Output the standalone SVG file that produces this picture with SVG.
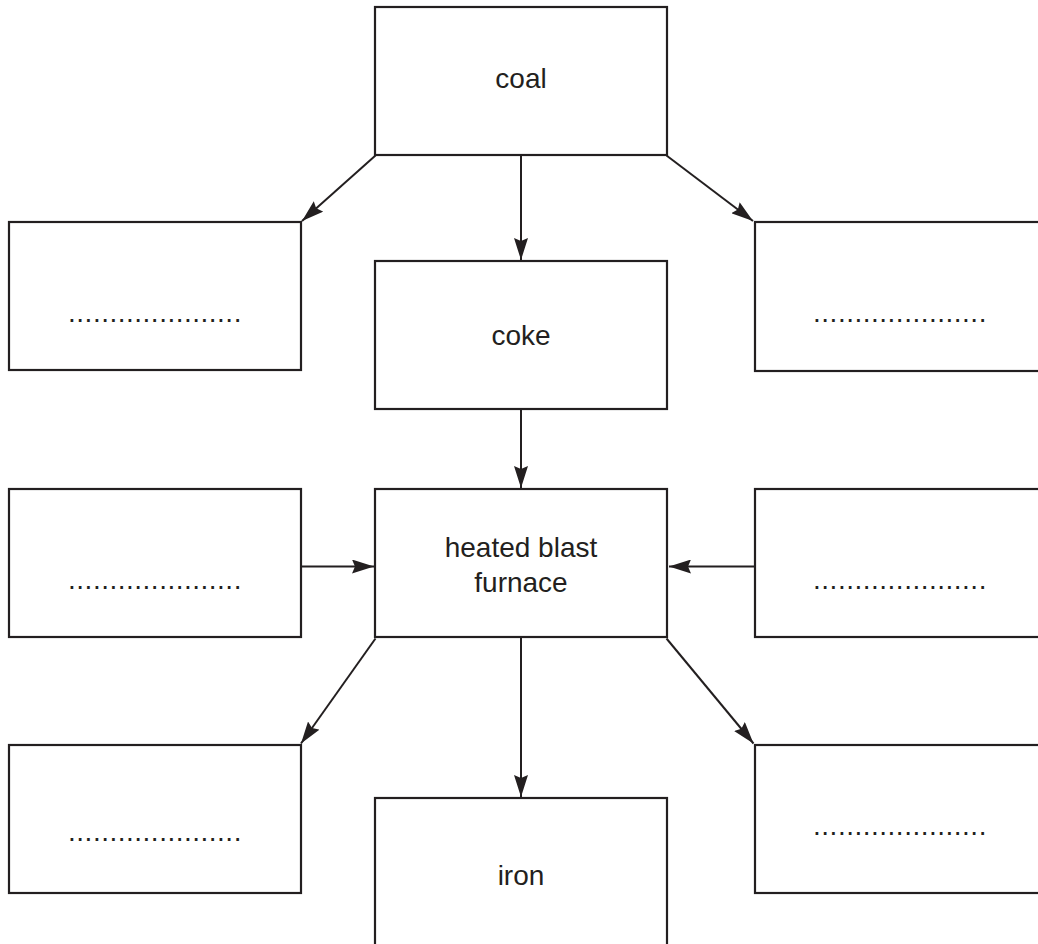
<svg xmlns="http://www.w3.org/2000/svg" width="1038" height="944" viewBox="0 0 1038 944">
<style>
.box{fill:#fff;stroke:#231f20;stroke-width:2.2}
.lbl{font-family:"Liberation Sans",Arial,sans-serif;font-size:28px;fill:#231f20;text-anchor:middle}
.dots{font-family:"Liberation Sans",Arial,sans-serif;font-size:28px;fill:#231f20;text-anchor:middle;letter-spacing:0.5px}
.conn{stroke:#231f20;stroke-width:2;fill:none;marker-end:url(#ah)}
</style>
<defs>
<marker id="ah" markerUnits="userSpaceOnUse" markerWidth="24" markerHeight="14" refX="22" refY="7" orient="auto">
<path d="M0,0 L22,7 L0,14 L3,7 Z" fill="#231f20"/>
</marker>
</defs>
<rect width="1038" height="944" fill="#fff"/>
<g id="connectors">
<line class="conn" x1="521" y1="155" x2="521" y2="260"/>
<line class="conn" x1="375.5" y1="155.5" x2="302" y2="221"/>
<line class="conn" x1="666.5" y1="155.5" x2="753" y2="221"/>
<line class="conn" x1="521" y1="409" x2="521" y2="488"/>
<line class="conn" x1="301" y1="566.5" x2="374" y2="566.5"/>
<line class="conn" x1="755" y1="566.5" x2="669" y2="566.5"/>
<line class="conn" x1="375.5" y1="638.5" x2="301" y2="743.5"/>
<line class="conn" x1="666.5" y1="638.5" x2="753.5" y2="743.5"/>
<line class="conn" x1="521" y1="637" x2="521" y2="797"/>
</g>
<g id="coal"><rect class="box" x="375" y="7" width="292" height="148"/><text class="lbl" x="521" y="88">coal</text></g>
<g id="top-left"><rect class="box" x="9" y="222" width="292" height="148"/><text class="dots" x="155" y="322">.....................</text></g>
<g id="coke"><rect class="box" x="375" y="261" width="292" height="148"/><text class="lbl" x="521" y="345">coke</text></g>
<g id="top-right"><rect class="box" x="755" y="222" width="292" height="149"/><text class="dots" x="900" y="322">.....................</text></g>
<g id="mid-left"><rect class="box" x="9" y="489" width="292" height="148"/><text class="dots" x="155" y="589">.....................</text></g>
<g id="furnace"><rect class="box" x="375" y="489" width="292" height="148"/><text class="lbl" x="521" y="557">heated blast</text><text class="lbl" x="521" y="592">furnace</text></g>
<g id="mid-right"><rect class="box" x="755" y="489" width="292" height="148"/><text class="dots" x="900" y="589">.....................</text></g>
<g id="bottom-left"><rect class="box" x="9" y="745" width="292" height="148"/><text class="dots" x="155" y="841">.....................</text></g>
<g id="iron"><rect class="box" x="375" y="798" width="292" height="150"/><text class="lbl" x="521" y="885">iron</text></g>
<g id="bottom-right"><rect class="box" x="755" y="745" width="292" height="148"/><text class="dots" x="900" y="835">.....................</text></g>
</svg>
